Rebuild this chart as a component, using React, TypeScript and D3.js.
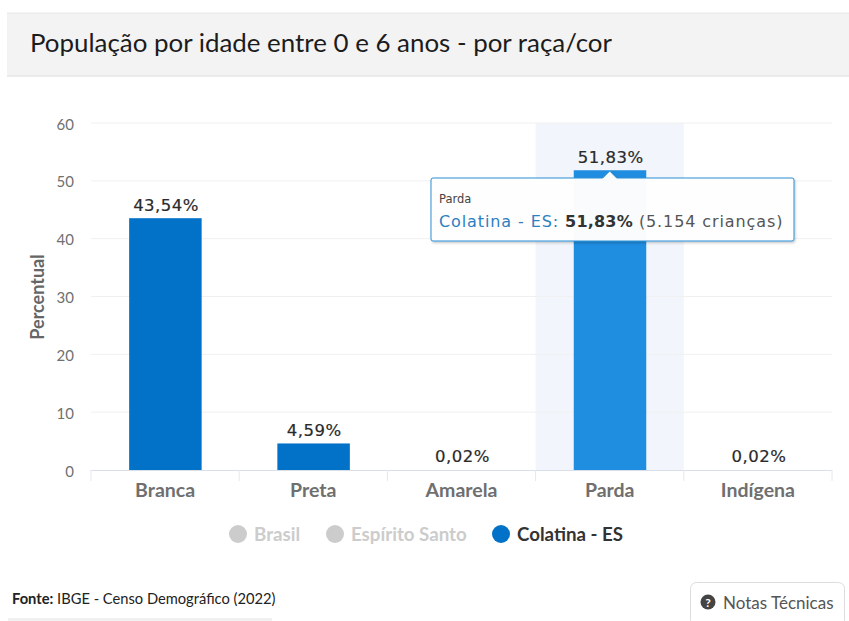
import React from "react";
import * as d3 from "d3";

const categories = ["Branca", "Preta", "Amarela", "Parda", "Indígena"];
const seriesValues = [43.54, 4.59, 0.02, 51.83, 0.02];
const valueLabels = ["43,54%", "4,59%", "0,02%", "51,83%", "0,02%"];
const yTicks = [0, 10, 20, 30, 40, 50, 60];
const legendItems = [
  { name: "Brasil", active: false, x: 229 },
  { name: "Espírito Santo", active: false, x: 326 },
  { name: "Colatina - ES", active: true, x: 492 },
];

const x = d3.scaleBand<string>().domain(categories).range([91, 832]);
const y = d3.scaleLinear().domain([0, 60]).range([470, 123]);
const BAR = 72.5;
const UI = "Lato, 'Noto Sans', sans-serif";
const DATA = "'DejaVu Sans', sans-serif";

export default function App() {
  const hovered = "Parda";
  const hx = x(hovered)!;
  const hc = hx + x.bandwidth() / 2;
  const tipTop = 178;
  return (
    <svg width={849} height={621} style={{ position: "fixed", left: 0, top: 0, display: "block", background: "#fff" }}>
      <defs>
        <filter id="ts" x="-5%" y="-10%" width="110%" height="125%">
          <feDropShadow dx="1" dy="1.5" stdDeviation="1.2" floodColor="#000" floodOpacity="0.22" />
        </filter>
      </defs>
      <rect x={7} y={13} width={842} height={63} fill="#f3f3f3" />
      <line x1={7} x2={849} y1={13} y2={13} stroke="#e6e6e6" />
      <line x1={7} x2={849} y1={76} y2={76} stroke="#dcdcdc" />
      <text x={30} y={52} fontFamily={UI} fontSize={25.9} fill="#1c1c1c">
        População por idade entre 0 e 6 anos - por raça/cor
      </text>

      <rect x={hx} y={123} width={x.bandwidth()} height={347} fill="#f2f6fc" />
      {yTicks.filter((t) => t > 0).map((t) => (
        <line key={t} x1={91} x2={832} y1={y(t)} y2={y(t)} stroke="#f0f0f0" />
      ))}
      <line x1={91} x2={832} y1={470.5} y2={470.5} stroke="#d8dfea" />
      {d3.range(categories.length + 1).map((i) => {
        const tx = 91 + i * x.bandwidth();
        return <line key={i} x1={tx} x2={tx} y1={470} y2={481} stroke="#e4e8ef" />;
      })}
      {yTicks.map((t) => (
        <text key={t} x={74} y={y(t) + 6.5} textAnchor="end" fontFamily={UI} fontSize={15} fill="#707070">
          {t}
        </text>
      ))}
      <text
        transform="translate(44,297) rotate(-90)"
        textAnchor="middle"
        fontFamily={UI}
        fontSize={18}
        fontWeight={700}
        fill="#666"
      >
        Percentual
      </text>

      {categories.map((c, i) => {
        const cx = x(c)! + x.bandwidth() / 2;
        const top = y(seriesValues[i]);
        return (
          <g key={c}>
            <rect
              x={cx - BAR / 2 + 0.3}
              y={top}
              width={BAR}
              height={470 - top}
              fill={c === hovered ? "#1f8de0" : "#0272c8"}
              opacity={seriesValues[i] < 0.1 ? 0 : 1}
            />
            <text x={cx + 1} y={top - 7.5} textAnchor="middle" fontFamily={DATA} fontSize={16.5} letterSpacing={0.5} stroke="#2a2a2a" strokeWidth={0.2} fill="#2a2a2a">
              {valueLabels[i]}
            </text>
            <text x={cx} y={497} textAnchor="middle" fontFamily={UI} fontSize={19.5} fontWeight={700} fill="#6f6f6f">
              {c}
            </text>
          </g>
        );
      })}

      {legendItems.map((l) => (
        <g key={l.name}>
          <circle cx={l.x + 9} cy={534} r={9} fill={l.active ? "#0272c8" : "#cccccc"} />
          <text
            x={l.x + 25}
            y={541}
            fontFamily={UI}
            fontSize={18.7}
            fontWeight={700}
            fill={l.active ? "#333" : "#cccccc"}
          >
            {l.name}
          </text>
        </g>
      ))}

      <path
        d={`M431,${tipTop + 2} a2,2 0 0 1 2,-2 H${hc - 7} l7,-7 l7,7 H792 a2,2 0 0 1 2,2 V239 a2,2 0 0 1 -2,2 H433 a2,2 0 0 1 -2,-2 Z`}
        fill="#fff"
        fillOpacity={0.97}
        stroke="#2b8fd6"
        filter="url(#ts)"
      />
      <text x={439} y={203} fontFamily={DATA} fontSize={11.5} fill="#444">
        Parda
      </text>
      <text x={439} y={226.5} fontFamily={DATA} fontSize={16} letterSpacing={0.9}>
        <tspan fill="#2c7fc1">Colatina - ES: </tspan>
        <tspan fill="#333" fontWeight={600} letterSpacing={0.2}>51,83%</tspan>
        <tspan fill="#555"> (5.154 crianças)</tspan>
      </text>

      <text x={12} y={604} fontFamily={UI} fontSize={14.7} fill="#222">
        <tspan fontWeight={700}>Fonte:</tspan> IBGE - Censo Demográfico (2022)
      </text>
      <rect x={8} y={618} width={264} height={3} fill="#f0f0f0" />

      <rect x={690.5} y={582.5} width={154} height={44} rx={6} fill="#fff" stroke="#dddddd" />
      <circle cx={708} cy={602} r={7.5} fill="#444" />
      <text x={708} y={606.5} textAnchor="middle" fontFamily={UI} fontSize={12} fontWeight={700} fill="#fff">?</text>
      <text x={723} y={609} fontFamily={UI} fontSize={17} fill="#555">
        Notas Técnicas
      </text>
    </svg>
  );
}
